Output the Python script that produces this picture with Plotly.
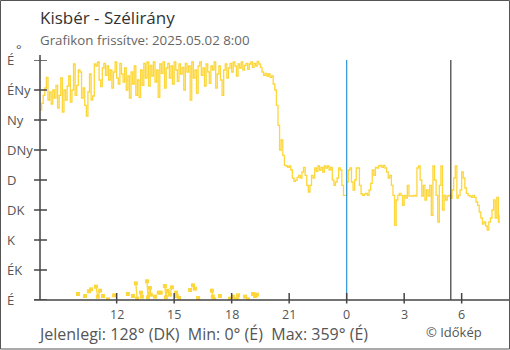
import pandas as pd
import plotly.graph_objects as go

station = "Kisbér"
updated = "2025.05.02 8:00"
start = "2025-05-01 08:00"
end = "2025-05-02 08:00"
step_min = 5

# wind direction in degrees, one reading every 5 minutes from 08:00
direction_deg = [
    285, 295, 307, 318, 334, 300, 312, 294, 315, 303, 322, 288, 307, 333, 282, 315, 300, 321, 336, 297,
    315, 354, 307, 322, 345, 342, 303, 318, 292, 276, 312, 339, 300, 306,
    354, 351, 357, 330, 320, 348, 355, 337, 351, 330, 345, 318, 342, 357, 333, 324,
    355, 339, 327, 348, 315, 336, 303, 342, 324, 351, 307, 330, 304, 345, 322, 355,
    333, 357, 321, 352, 336, 357, 327, 345, 304, 354, 340, 357, 318, 348, 355, 333,
    351, 324, 357, 345, 328, 354, 339, 349, 315, 355, 342, 351, 300, 357, 333, 345,
    310, 351, 357, 337, 348, 321, 354, 342, 325, 351, 345, 357, 318, 339, 351, 330,
    307, 345, 354, 333, 348, 355, 342, 357, 351, 336, 354, 348, 357, 345, 352, 355,
    346, 354, 357, 349, 355, 351, 358, 354,
    349, 342, 337, 340, 336, 339, 334, 336, 324, 315, 292, 262, 225,
    240, 217, 202, 201, 199, 201, 195, 183, 178, 180, 184, 187, 183, 192, 199, 187,
    172, 162, 172, 187, 183, 198, 193, 201, 195, 199, 192, 201, 198, 201, 195, 199,
    180, 172, 177, 183, 198, 195, 172, 157, 157,
    177, 195, 198, 177, 165, 180, 198, 198, 172, 159, 157, 159, 160, 157, 165, 175,
    195, 187, 199, 198, 201, 202, 199, 202, 198, 192, 183, 187, 172, 157, 112, 150,
    157, 160, 157, 142, 157, 153, 172, 156, 156, 156, 157, 156, 198, 201, 180, 156,
    172, 150, 165, 156, 172, 127, 201, 180, 157, 117, 172, 201, 135, 157, 150, 156,
    157, 153, 165, 183, 201, 153, 157, 165, 192, 183, 168, 160, 157, 156, 154, 157,
    154, 147, 142, 132, 123, 114, 117, 111, 105, 117, 123, 135, 150, 123, 154, 117,
    128,
]

# readings just east of north (minutes after 08:00, degrees); None breaks the line
low_offset_min = [
    119, None, 141, None, 153, None, 160, None, 175, 181, 188, None, 197, None, 213, None,
    232, None, 275, None, 291, None, 300, 304, None, 316, None, 319, None,
    335, 338, 344, 347, None, 360, None, 372, 378, None, 391, 394, 400, 407, 413, None,
    426, 428, None, 435, None, 470, None, 479, 485, None, 495, None, 538, 541, None,
    545, None, 563, None, 595, 604, 613, 617, None, 620, None, 642, 651, None,
    667, 673, 679,
]
low_deg = [
    9, None, 6, None, 13, None, 16, None, 20, 5, 14, None, 6, None, 1, None,
    7, None, 9, None, 6, None, 25, 2, None, 11, None, 5, None,
    28, 4, 18, 8, None, 5, None, 11, 11, None, 21, 4, 14, 8, 19, None,
    11, 6, None, 3, None, 15, None, 22, 17, None, 3, None, 14, 5, None,
    1, None, 6, None, 2, 5, 1, 1, None, 7, None, 5, 1, None,
    9, 6, 8,
]

midnight = "2025-05-02 00:00"
sunrise = "2025-05-02 05:26"

dir_ticks = [0, 45, 90, 135, 180, 225, 270, 315, 360]
dir_labels = ["É", "ÉK", "K", "DK", "D", "DNy", "Ny", "ÉNy", "É"]
hour_ticks = ["2025-05-01 12:00", "2025-05-01 15:00", "2025-05-01 18:00", "2025-05-01 21:00",
              "2025-05-02 00:00", "2025-05-02 03:00", "2025-05-02 06:00"]
hour_labels = ["12", "15", "18", "21", "0", "3", "6"]

current_deg, current_dir = 128, "DK"
min_deg, min_dir = 0, "É"
max_deg, max_dir = 359, "É"

t0 = pd.Timestamp(start)
times = [t0 + pd.Timedelta(minutes=step_min * i) for i in range(len(direction_deg))]
low_times = [None if m is None else t0 + pd.Timedelta(minutes=m) for m in low_offset_min]

W, H = 510, 350
L, R, T, B = 40, 10, 60, 50
PW, PH = W - L - R, H - T - B


def px(xp):
    return (xp - L) / PW


def py(yp):
    return (H - B - yp) / PH


LINE = "#fdd63a"
AXIS = "#454545"
TEXT = "#555555"
FONT = "Open Sans"

fig = go.Figure()
fig.add_trace(go.Scatter(
    x=times, y=direction_deg, mode="lines", line=dict(color=LINE, width=1.3, shape="hv"),
    hoverinfo="skip", showlegend=False))
fig.add_trace(go.Scatter(
    x=low_times, y=low_deg, mode="lines+markers", line=dict(color=LINE, width=1.3),
    marker=dict(color=LINE, size=4, symbol="square"), connectgaps=False,
    hoverinfo="skip", showlegend=False))

shapes = []
# midnight and sunrise markers
shapes.append(dict(type="line", xref="x", yref="y", x0=midnight, x1=midnight, y0=0, y1=360,
                   line=dict(color="#2b95dc", width=1.2)))
shapes.append(dict(type="line", xref="x", yref="y", x0=sunrise, x1=sunrise, y0=0, y1=360,
                   line=dict(color="#3a3a3a", width=1.2)))
# axis lines
shapes.append(dict(type="line", xref="paper", yref="paper", x0=0, x1=0, y0=0, y1=py(55),
                   line=dict(color=AXIS, width=1.5)))
shapes.append(dict(type="line", xref="paper", yref="paper", x0=px(34), x1=px(W), y0=0, y1=0,
                   line=dict(color=AXIS, width=1.5)))
# crossing tick marks
for v in dir_ticks:
    shapes.append(dict(type="line", xref="paper", yref="y", x0=px(34), x1=px(47), y0=v, y1=v,
                       line=dict(color=AXIS, width=1.5)))
for t in hour_ticks:
    shapes.append(dict(type="line", xref="x", yref="paper", x0=t, x1=t, y0=py(303.5), y1=py(293),
                       line=dict(color=AXIS, width=1.5)))
# outer frame
shapes.append(dict(type="rect", xref="paper", yref="paper", x0=px(0.5), x1=px(W - 0.5),
                   y0=py(H - 1), y1=py(0.5), line=dict(color="#555555", width=1)))

annotations = []
for v, lab in zip(dir_ticks, dir_labels):
    annotations.append(dict(xref="paper", yref="y", x=px(6), y=v, text=lab, showarrow=False,
                            xanchor="left", yanchor="middle", borderpad=0,
                            font=dict(family=FONT, size=13, color=TEXT)))
annotations.append(dict(xref="paper", yref="paper", x=px(14.5), y=py(49), text="°", showarrow=False,
                        xanchor="left", yanchor="middle", borderpad=0,
                        font=dict(family=FONT, size=13, color=TEXT)))
annotations.append(dict(xref="paper", yref="paper", x=px(38), y=py(18), text=f"{station} - Szélirány",
                        showarrow=False, xanchor="left", yanchor="middle",
                        font=dict(family=FONT, size=17, color="#333333")))
annotations.append(dict(xref="paper", yref="paper", x=px(38), y=py(40),
                        text=f"Grafikon frissítve: {updated}", showarrow=False,
                        xanchor="left", yanchor="middle", font=dict(family=FONT, size=13.3, color="#666666")))
annotations.append(dict(xref="paper", yref="paper", x=px(37), y=py(333.5),
                        text=(f"Jelenlegi: {current_deg}° ({current_dir})  Min: {min_deg}° ({min_dir})  "
                              f"Max: {max_deg}° ({max_dir})"),
                        showarrow=False, xanchor="left", yanchor="middle", borderpad=0,
                        font=dict(family=FONT, size=16, color=TEXT)))
annotations.append(dict(xref="paper", yref="paper", x=px(483), y=py(331.5), text="© Időkép",
                        showarrow=False, xanchor="right", yanchor="middle", borderpad=0,
                        font=dict(family=FONT, size=13, color=TEXT)))
# hour labels below the time axis
for t, lab in zip(hour_ticks, hour_labels):
    annotations.append(dict(xref="x", yref="paper", x=t, y=py(314.5), text=lab, showarrow=False,
                            xanchor="center", yanchor="middle", borderpad=0,
                            font=dict(family=FONT, size=12.5, color=TEXT)))

fig.update_layout(
    width=W, height=H, margin=dict(l=L, r=R, t=T, b=B),
    paper_bgcolor="white", plot_bgcolor="white",
    shapes=shapes, annotations=annotations,
    xaxis=dict(range=[start, end], showgrid=False, zeroline=False, showline=False,
               showticklabels=False, ticks=""),
    yaxis=dict(range=[0, 360], showgrid=False, zeroline=False, showline=False,
               showticklabels=False, ticks=""),
)

fig.write_html("out.html")
